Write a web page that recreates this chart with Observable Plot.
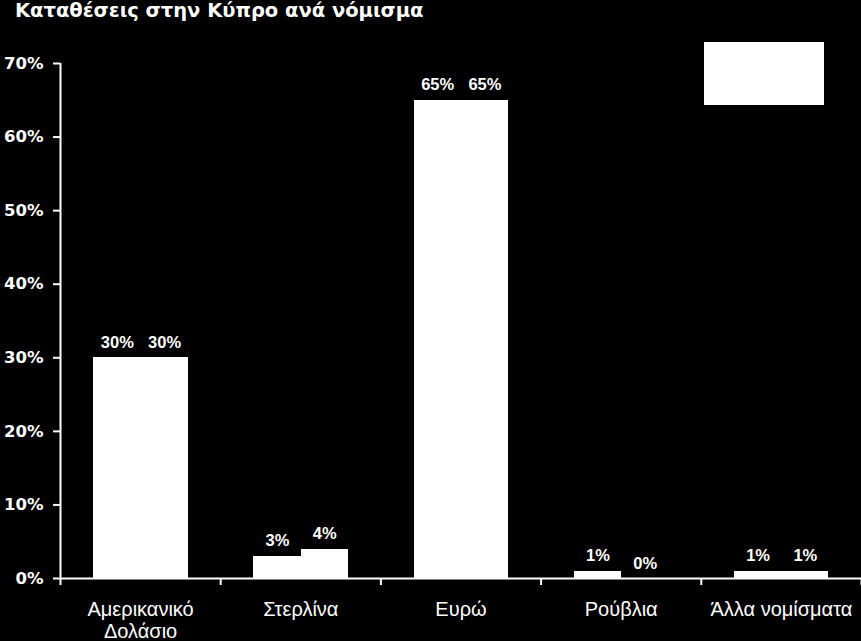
<!DOCTYPE html>
<html><head><meta charset="utf-8">
<script src="https://cdn.jsdelivr.net/npm/d3@7"></script>
<script src="https://cdn.jsdelivr.net/npm/@observablehq/plot@0.6"></script>
<style>
body{margin:0;background:#000;}
#wrap{position:relative;width:861px;height:641px;background:#000;overflow:hidden}
#title{height:40px;box-sizing:border-box;padding-left:15px;font:bold 19.5px 'DejaVu Sans',sans-serif;color:#fff;line-height:22px;padding-top:0px;white-space:nowrap}
#legend{position:absolute;left:704px;top:42px;width:120px;height:63px;background:#fff}
</style>
</head><body>
<div id="wrap">
  <div id="title">Καταθέσεις στην Κύπρο ανά νόμισμα</div>
  <div id="chart"></div>
  <div id="legend"></div>
</div>
<script>
// Data
const categories = ["Αμερικανικό\nΔολάσιο", "Στερλίνα", "Ευρώ", "Ρούβλια", "Άλλα νομίσματα"];
const seriesNames = ["Σειρά 1", "Σειρά 2"];
const series1 = [30, 3, 65, 1, 1];
const series2 = [30, 4, 65, 0, 1];
const yTicks = [0, 10, 20, 30, 40, 50, 60, 70];

const table = [];
[series1, series2].forEach((vals, s) => {
  vals.forEach((v, i) => table.push({category: categories[i], i, s, series: seriesNames[s], value: v}));
});

// layout within each category band (fractions of the band)
const barStart = 0.207, barW = 0.295;
const x1 = d => d.i + barStart + d.s * barW;
const x2 = d => d.i + barStart + (d.s + 1) * barW;
const xc = d => d.i + barStart + (d.s + 0.5) * barW;

const plot = Plot.plot({
  width: 861,
  height: 601,
  marginTop: 23,
  marginBottom: 63,
  marginLeft: 60,
  marginRight: 0,
  style: {background: "#000", color: "#fff", overflow: "visible"},
  x: {domain: [0, categories.length], axis: null},
  y: {domain: [0, 70], axis: null},
  marks: [
    Plot.rectY(table, {x1, x2, y1: 0, y2: "value", fill: "#fff", shapeRendering: "crispEdges"}),
    Plot.text(table, {x: xc, y: "value", text: d => d.value + "%", dy: -10, lineAnchor: "bottom",
      fill: "#fff", fontSize: 16.5, fontWeight: "bold", fontFamily: "'Liberation Sans', Arial, sans-serif"}),
    Plot.ruleX([0], {y1: 0, y2: 70, stroke: "#fff", strokeWidth: 2}),
    Plot.ruleY([0], {stroke: "#fff", strokeWidth: 2}),
    Plot.axisY({ticks: yTicks, tickFormat: d => d + "%", label: null, tickSize: 7, tickPadding: 10, stroke: "#fff",
      strokeWidth: 2, fill: "#fff", fontSize: 16.5, fontWeight: "bold", fontFamily: "'DejaVu Sans', sans-serif"}),
    Plot.axisX({ticks: d3.range(categories.length + 1), tickFormat: () => "", label: null, tickSize: 7, stroke: "#fff", strokeWidth: 2}),
    Plot.axisX({ticks: categories.map((c, i) => i + 0.5), tickFormat: t => categories[Math.floor(t)], label: null, tickSize: 0,
      tickPadding: 22, lineHeight: 1.1, fill: "#fff", fontSize: 20, fontFamily: "'Liberation Sans', Arial, sans-serif"})
  ]
});
document.getElementById("chart").appendChild(plot);
</script></body></html>
